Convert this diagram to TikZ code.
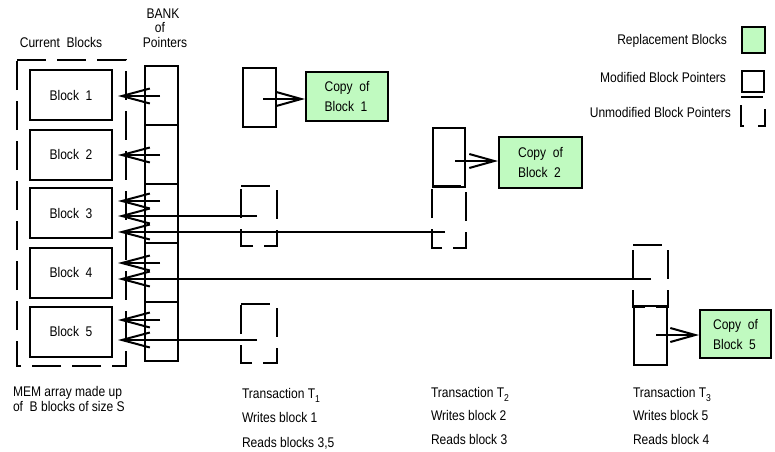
\documentclass[tikz,border=0pt]{standalone}
\usepackage{fontspec}
\setmainfont[FakeStretch=0.86]{Liberation Sans}
\usetikzlibrary{arrows.meta}
\definecolor{repl}{RGB}{192,250,192}
\begin{document}
\begin{tikzpicture}[x=1pt,y=-1pt, line width=2pt,
 every node/.style={inner sep=0pt, font=\fontsize{14}{16}\selectfont},
 blockbox/.style={draw, minimum width=82pt, minimum height=50pt},
 cellbox/.style={draw, minimum width=33pt, minimum height=59pt},
 copybox/.style={draw, fill=repl, align=left, font=\fontsize{14}{20}\selectfont},
 unmod/.style={dash pattern=on 29pt off 11pt},
 ptr/.style={-{Straight Barb[length=28pt,width=15pt]}},
 cptr/.style={-{Straight Barb[length=25pt,width=14pt]}}
]
\useasboundingbox (0,0) rectangle (775,451);

% headings
\node[anchor=base] (hb1) at (163,18) {BANK};
\node[anchor=base] (hb2) at (160,32) {of};
\node[anchor=base] (hb3) at (165,47) {Pointers};
\node[anchor=base] (hcb) at (61,47) {Current\ \ Blocks};

% memory array
\node[minimum width=107pt, minimum height=304pt] (mem) at (71.5,213) {};
\draw[unmod] (mem.north west) -- (mem.north east) -- (mem.south east) -- (mem.south west) -- cycle;
\node[blockbox] (b1) at (71,95) {Block\ \ 1};
\node[blockbox] (b2) at (71,154.5) {Block\ \ 2};
\node[blockbox] (b3) at (71,213) {Block\ \ 3};
\node[blockbox] (b4) at (71,272.5) {Block\ \ 4};
\node[blockbox] (b5) at (71,331.5) {Block\ \ 5};

% bank of pointers
\node[cellbox] (c1) at (161.5,95.5) {};
\node[cellbox] (c2) at (161.5,154.5) {};
\node[cellbox] (c3) at (161.5,213.5) {};
\node[cellbox] (c4) at (161.5,272.5) {};
\node[cellbox] (c5) at (161.5,331.5) {};

\coordinate (s1) at (160,96);
\coordinate (s2) at (160,155);
\coordinate (s3) at (160,201);
\coordinate (s4) at (160,263);
\coordinate (s5) at (160,320);
\draw[ptr, shorten >=5pt] (s1) -- (s1 -| b1.east);
\draw[ptr, shorten >=5pt] (s2) -- (s2 -| b2.east);
\draw[ptr, shorten >=5pt] (s3) -- (s3 -| b3.east);
\draw[ptr, shorten >=5pt] (s4) -- (s4 -| b4.east);
\draw[ptr, shorten >=5pt] (s5) -- (s5 -| b5.east);

% Transaction 1
\node[draw, minimum width=33pt, minimum height=59pt] (m1) at (259.5,97.5) {};
\node[copybox, minimum width=82pt, minimum height=49pt] (cp1) at (347,96.5) {Copy\ \ of\\Block\ \ 1};
\coordinate (q1) at (263,99);
\draw[cptr] (q1) -- (q1 -| cp1.west);
\node[minimum width=34pt, minimum height=58pt] (u1a) at (259,216) {};
\draw[unmod] (u1a.north west) -- (u1a.north east) -- (u1a.south east) -- (u1a.south west) -- cycle;
\node[minimum width=34pt, minimum height=57pt] (u1b) at (259,333.5) {};
\draw[unmod] (u1b.north west) -- (u1b.north east) -- (u1b.south east) -- (u1b.south west) -- cycle;
\coordinate (t1a) at (257,216);
\coordinate (t1b) at (257,340);
\draw[ptr, shorten >=5pt] (t1a) -- (t1a -| b3.east);
\draw[ptr, shorten >=5pt] (t1b) -- (t1b -| b5.east);

% Transaction 2
\node[draw, minimum width=32pt, minimum height=59pt] (m2) at (449,157.5) {};
\node[copybox, minimum width=83pt, minimum height=51pt] (cp2) at (540.5,162.5) {Copy\ \ of\\Block\ \ 2};
\coordinate (q2) at (455,161);
\draw[cptr] (q2) -- (q2 -| cp2.west);
\node[minimum width=32pt, minimum height=60pt] (u2) at (449,217) {};
\draw[unmod] (u2.north west) -- (u2.north east) -- (u2.south east) -- (u2.south west) -- cycle;
\coordinate (t2) at (445,232);
\draw[ptr, shorten >=5pt] (t2) -- (t2 -| b3.east);

% Transaction 3
\node[minimum width=33pt, minimum height=60pt] (u3) at (650.5,276) {};
\draw[unmod] (u3.north west) -- (u3.north east) -- (u3.south east) -- (u3.south west) -- cycle;
\node[draw, minimum width=33pt, minimum height=59pt] (m3) at (650.5,335.5) {};
\node[copybox, minimum width=71pt, minimum height=48pt] (cp5) at (735.5,334) {Copy\ \ of\\Block\ \ 5};
\coordinate (q3) at (656,335);
\draw[cptr] (q3) -- (q3 -| cp5.west);
\coordinate (t3) at (651,279);
\draw[ptr, shorten >=5pt] (t3) -- (t3 -| b4.east);

% legend
\node[draw, fill=repl, minimum width=23pt, minimum height=26pt] (lg1) at (753.5,40) {};
\node[draw, minimum width=22pt, minimum height=21pt] (lg2) at (753,81) {};
\node[minimum width=22pt, minimum height=27pt] (lg3) at (753,111.5) {};
\draw[dash pattern=on 22pt off 14pt on 24pt off 14pt on 24pt] (lg3.north west) -- (lg3.north east) -- (lg3.south east) -- (lg3.south west) -- cycle;
\node[anchor=base east] (lt1) at (728,44) {Replacement Blocks};
\node[anchor=base east] (lt2) at (727,82) {Modified Block Pointers};
\node[anchor=base east] (lt3) at (732,117) {Unmodified Block Pointers};

% captions
\node[anchor=base west] (mc1) at (12,396) {MEM array made up};
\node[anchor=base west] (mc2) at (12,411) {of\ \ B blocks of size S};

\node[anchor=base west] (ta1) at (241,398) {Transaction T\raisebox{-4pt}{\fontsize{10}{12}\selectfont 1}};
\node[anchor=base west] (ta2) at (241,422) {Writes block 1};
\node[anchor=base west] (ta3) at (241,447) {Reads blocks 3,5};

\node[anchor=base west] (tb1) at (430,397) {Transaction T\raisebox{-4pt}{\fontsize{10}{12}\selectfont 2}};
\node[anchor=base west] (tb2) at (430,420) {Writes block 2};
\node[anchor=base west] (tb3) at (430,444) {Reads block 3};

\node[anchor=base west] (tc1) at (632,397) {Transaction T\raisebox{-4pt}{\fontsize{10}{12}\selectfont 3}};
\node[anchor=base west] (tc2) at (632,420) {Writes block 5};
\node[anchor=base west] (tc3) at (632,444) {Reads block 4};
\end{tikzpicture}
\end{document}
